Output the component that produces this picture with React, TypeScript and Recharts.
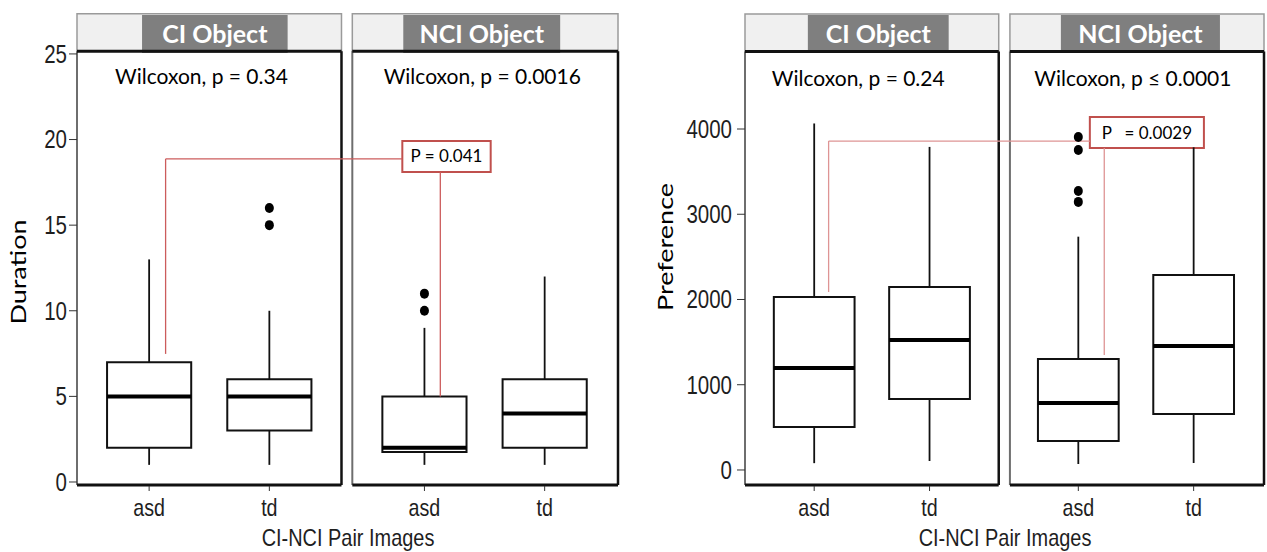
import React from 'react';
import { ComposedChart, XAxis, YAxis, Scatter, ReferenceArea, ReferenceLine, ReferenceDot } from 'recharts';

const groups = ['asd', 'td'];
const facets = ['CI Object', 'NCI Object'];
const xTitle = 'CI-NCI Pair Images';

// box stats: [lower whisker, Q1, median, Q3, upper whisker]
const durationCiAsd = [1, 2, 5, 7, 13];
const durationCiTd = [1, 3, 5, 6, 10];
const durationNciAsd = [1, 1.75, 2, 5, 9];
const durationNciTd = [1, 2, 4, 6, 12];
const durationCiAsdOut: number[] = [];
const durationCiTdOut = [15, 16];
const durationNciAsdOut = [10, 11];
const durationNciTdOut: number[] = [];
const durationTicks = [0, 5, 10, 15, 20, 25];
const durationTests = ['Wilcoxon, p = 0.34', 'Wilcoxon, p = 0.0016'];
const durationPair = 'P = 0.041';

const preferenceCiAsd = [80, 505, 1195, 2030, 4065];
const preferenceCiTd = [105, 833, 1525, 2147, 3790];
const preferenceNciAsd = [70, 340, 786, 1302, 2737];
const preferenceNciTd = [82, 657, 1455, 2287, 3785];
const preferenceCiAsdOut: number[] = [];
const preferenceCiTdOut: number[] = [];
const preferenceNciAsdOut = [3145, 3272, 3754, 3906];
const preferenceNciTdOut: number[] = [];
const preferenceTicks = [0, 1000, 2000, 3000, 4000];
const preferenceTests = ['Wilcoxon, p = 0.24', 'Wilcoxon, p \u2264 0.0001'];
const preferencePair = 'P\u00a0\u00a0\u00a0=\u00a00.0029';

const boxX = [1, 2, 3.29, 4.29];
const HALF = 0.35;
const AXIS_FONT = '"Liberation Sans", Arial, sans-serif';
const TEXT_FONT = 'Lato, "Open Sans", sans-serif';
const AXIS_COLOR = '#1e1e1e';

type Spec = {
  left: number;
  width: number;
  yAxisWidth: number;
  rightMargin: number;
  yTickMargin: number;
  yDomain: [number, number];
  panelBottom: number;
  stripBottom: number;
  stripTop: number;
  labelBottom: number;
  labelTop: number;
  panel2Start: number;
  stripLabelX: number[][];
  boxes: number[][];
  outliers: number[][];
  ticks: number[];
  tests: string[];
  testX: number[];
  testY: number;
  pair: string;
  pairBox: number[];
  pairFrom: number[];
  pairLevel: number;
  pairTo: number[];
  lineColor: string;
  yLabel: string;
  yLabelPos: number[];
  titleX: number;
};

// narrow axis text (the figure's axis font is condensed)
const YTick = (props: any) => {
  const { x, y, payload } = props;
  return (
    <text x={0} y={0} transform={`translate(${x},${y}) scale(0.82,1)`} textAnchor="end" dy="0.355em" fontSize={25} fontFamily={AXIS_FONT} fill={AXIS_COLOR}>
      {payload.value}
    </text>
  );
};

const XTick = (props: any) => {
  const { x, y, payload } = props;
  const v = payload.value as number;
  const name = Math.abs(v - 1) < 0.01 || Math.abs(v - 3.29) < 0.01 ? groups[0] : groups[1];
  return (
    <text x={0} y={0} transform={`translate(${x},${y}) scale(0.82,1)`} textAnchor="middle" dy="0.71em" fontSize={24} fontFamily={AXIS_FONT} fill={AXIS_COLOR}>
      {name}
    </text>
  );
};

function FacetBoxChart({ s }: { s: Spec }) {
  const outlierData = s.outliers.flatMap((vals, i) => vals.map((v) => ({ x: boxX[i], y: v })));
  const panels = [
    [0.4, 2.6],
    [s.panel2Start, 4.9],
  ];
  const top = s.stripBottom;
  return (
    <>
      <div style={{ position: 'absolute', left: s.left, top: 0 }}>
        <ComposedChart width={s.width} height={552} margin={{ top: 13, right: s.rightMargin, bottom: 0, left: 0 }}>
          <XAxis
            type="number"
            dataKey="x"
            domain={[0.4, 4.9]}
            allowDataOverflow
            ticks={boxX}
            interval={0}
            axisLine={false}
            tickLine={{ stroke: '#333' }}
            tickSize={5}
            tickMargin={8}
            height={66}
            tick={<XTick />}
          />
          <YAxis
            type="number"
            dataKey="y"
            domain={s.yDomain}
            allowDataOverflow
            ticks={s.ticks}
            interval={0}
            width={s.yAxisWidth}
            axisLine={false}
            tickLine={{ stroke: '#333' }}
            tickSize={8}
            tickMargin={s.yTickMargin}
            tick={<YTick />}
          />

          {panels.map(([a, b], f) => (
            <React.Fragment key={'p' + f}>
              <ReferenceArea x1={a} x2={b} y1={s.panelBottom} y2={top} fill="#fff" fillOpacity={1} stroke="none" ifOverflow="visible" />
              <ReferenceArea x1={a} x2={b} y1={s.stripBottom} y2={s.stripTop} fill="#f0f0f0" fillOpacity={1} stroke="#9a9a9a" strokeWidth={1.5} ifOverflow="visible" />
              <ReferenceLine segment={[{ x: a, y: s.panelBottom }, { x: a, y: top }]} stroke="#6e6e6e" strokeWidth={2} ifOverflow="visible" />
              <ReferenceLine segment={[{ x: b, y: s.panelBottom }, { x: b, y: top }]} stroke="#111" strokeWidth={2.5} ifOverflow="visible" />
              <ReferenceLine segment={[{ x: a, y: s.panelBottom }, { x: b, y: s.panelBottom }]} stroke="#111" strokeWidth={3} ifOverflow="visible" />
              <ReferenceLine segment={[{ x: a, y: top }, { x: b, y: top }]} stroke="#111" strokeWidth={3} ifOverflow="visible" />
              <ReferenceArea
                x1={s.stripLabelX[f][0]}
                x2={s.stripLabelX[f][1]}
                y1={s.labelBottom}
                y2={s.labelTop}
                fill="#7f7f7f"
                fillOpacity={1}
                stroke="none"
                ifOverflow="visible"
                label={{ value: facets[f], position: 'center', fill: '#fff', fontSize: 25, fontWeight: 700, fontFamily: TEXT_FONT }}
              />
              <ReferenceDot
                x={s.testX[f]}
                y={s.testY}
                r={0}
                fill="none"
                stroke="none"
                ifOverflow="visible"
                label={{ value: s.tests[f], position: 'center', fill: '#000', fontSize: 21, fontFamily: TEXT_FONT }}
              />
            </React.Fragment>
          ))}

          {s.boxes.map((b, i) => (
            <React.Fragment key={'b' + i}>
              <ReferenceLine segment={[{ x: boxX[i], y: b[0] }, { x: boxX[i], y: b[1] }]} stroke="#111" strokeWidth={1.8} ifOverflow="visible" />
              <ReferenceLine segment={[{ x: boxX[i], y: b[3] }, { x: boxX[i], y: b[4] }]} stroke="#111" strokeWidth={1.8} ifOverflow="visible" />
              <ReferenceArea x1={boxX[i] - HALF} x2={boxX[i] + HALF} y1={b[1]} y2={b[3]} fill="#fff" fillOpacity={1} stroke="#111" strokeWidth={2} ifOverflow="visible" />
              <ReferenceLine segment={[{ x: boxX[i] - HALF, y: b[2] }, { x: boxX[i] + HALF, y: b[2] }]} stroke="#000" strokeWidth={4} ifOverflow="visible" />
            </React.Fragment>
          ))}

          <Scatter
            data={outlierData}
            isAnimationActive={false}
            shape={(p: any) => <ellipse cx={p.cx} cy={p.cy} rx={4.5} ry={5} fill="#000" />}
          />

          <ReferenceLine segment={[{ x: s.pairFrom[0], y: s.pairFrom[1] }, { x: s.pairFrom[0], y: s.pairLevel }]} stroke={s.lineColor} strokeWidth={1.3} ifOverflow="visible" />
          <ReferenceLine segment={[{ x: s.pairFrom[0], y: s.pairLevel }, { x: s.pairBox[0], y: s.pairLevel }]} stroke={s.lineColor} strokeWidth={1.3} ifOverflow="visible" />
          <ReferenceLine segment={[{ x: s.pairTo[0], y: s.pairBox[2] }, { x: s.pairTo[0], y: s.pairTo[1] }]} stroke={s.lineColor} strokeWidth={1.3} ifOverflow="visible" />
          <ReferenceArea
            x1={s.pairBox[0]}
            x2={s.pairBox[1]}
            y1={s.pairBox[2]}
            y2={s.pairBox[3]}
            fill="#fff"
            fillOpacity={1}
            stroke="#c0504d"
            strokeWidth={2}
            ifOverflow="visible"
            label={{ value: s.pair, position: 'center', fill: '#000', fontSize: 17, fontFamily: TEXT_FONT }}
          />
        </ComposedChart>
      </div>
      <div
        style={{
          position: 'absolute',
          left: s.yLabelPos[0],
          top: s.yLabelPos[1],
          transform: 'translate(-50%, -50%) rotate(-90deg) scaleY(0.78)',
          fontFamily: TEXT_FONT,
          fontSize: 27,
          lineHeight: 1,
          whiteSpace: 'nowrap',
          color: '#000',
        }}
      >
        {s.yLabel}
      </div>
      <div
        style={{
          position: 'absolute',
          left: s.titleX,
          top: 526,
          transform: 'translateX(-50%) scaleX(0.83)',
          fontFamily: AXIS_FONT,
          fontSize: 24,
          lineHeight: 1,
          whiteSpace: 'nowrap',
          color: AXIS_COLOR,
        }}
      >
        {xTitle}
      </div>
    </>
  );
}

const durationSpec: Spec = {
  left: 0,
  width: 640,
  yAxisWidth: 77,
  rightMargin: 22,
  yTickMargin: 2,
  yDomain: [-0.234, 27.39],
  panelBottom: -0.175,
  stripBottom: 25.15,
  stripTop: 27.34,
  labelBottom: 25.06,
  labelTop: 27.28,
  panel2Start: 2.69,
  stripLabelX: [
    [0.941, 2.152],
    [3.114, 4.419],
  ],
  boxes: [durationCiAsd, durationCiTd, durationNciAsd, durationNciTd],
  outliers: [durationCiAsdOut, durationCiTdOut, durationNciAsdOut, durationNciTdOut],
  ticks: durationTicks,
  tests: durationTests,
  testX: [1.435, 3.771],
  testY: 23.66,
  pair: durationPair,
  pairBox: [3.106, 3.841, 18.11, 19.92],
  pairFrom: [1.137, 7.48],
  pairLevel: 18.87,
  pairTo: [3.422, 5.0],
  lineColor: '#cc5c5c',
  yLabel: 'Duration',
  yLabelPos: [18, 272],
  titleX: 347.5,
};

const preferenceSpec: Spec = {
  left: 640,
  width: 627,
  yAxisWidth: 105,
  rightMargin: 3,
  yTickMargin: 5,
  yDomain: [-188, 5361],
  panelBottom: -176,
  stripBottom: 4909,
  stripTop: 5349,
  labelBottom: 4891,
  labelTop: 5337,
  panel2Start: 2.697,
  stripLabelX: [
    [0.945, 2.166],
    [3.139, 4.518],
  ],
  boxes: [preferenceCiAsd, preferenceCiTd, preferenceNciAsd, preferenceNciTd],
  outliers: [preferenceCiAsdOut, preferenceCiTdOut, preferenceNciAsdOut, preferenceNciTdOut],
  ticks: preferenceTicks,
  tests: preferenceTests,
  testX: [1.382, 3.763],
  testY: 4587,
  pair: preferencePair,
  pairBox: [3.39, 4.379, 3777, 4141],
  pairFrom: [1.125, 2088],
  pairLevel: 3859,
  pairTo: [3.515, 1349],
  lineColor: '#de9494',
  yLabel: 'Preference',
  yLabelPos: [664.5, 247],
  titleX: 1004.5,
};

export default function App() {
  return (
    <div style={{ position: 'absolute', left: 0, top: 0, width: 1267, height: 552, background: '#fff' }}>
      <FacetBoxChart s={durationSpec} />
      <FacetBoxChart s={preferenceSpec} />
    </div>
  );
}
